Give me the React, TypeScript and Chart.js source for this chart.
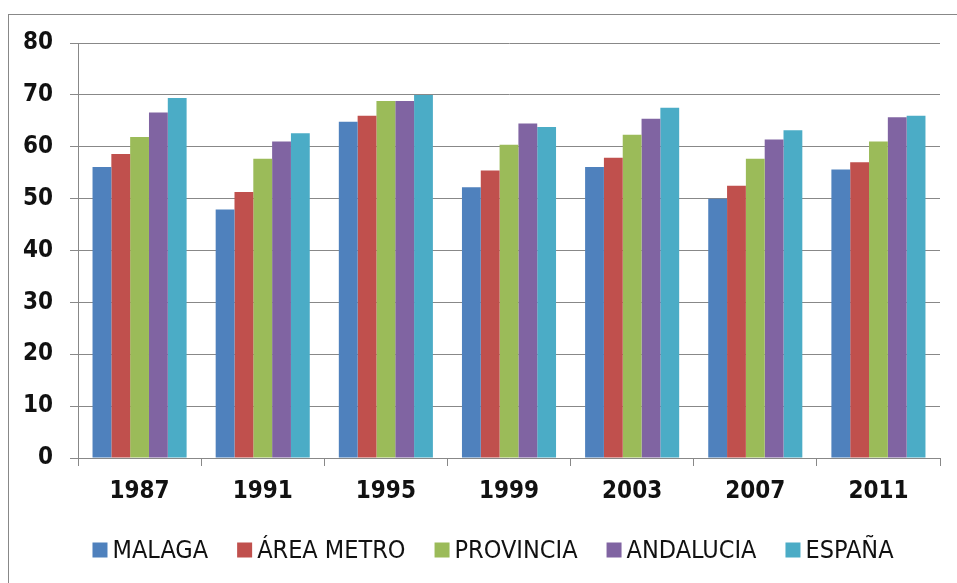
import React, { useEffect, useRef } from "react";
import { Chart, registerables } from "chart.js";

Chart.register(...registerables);

const categories = ["1987", "1991", "1995", "1999", "2003", "2007", "2011"];
const seriesNames = ["MALAGA", "ÁREA METRO", "PROVINCIA", "ANDALUCIA", "ESPAÑA"];
const malaga = [56.1, 47.9, 64.8, 52.2, 56.1, 50.0, 55.6];
const areaMetro = [58.6, 51.3, 66.0, 55.4, 57.9, 52.5, 57.0];
const provincia = [61.9, 57.7, 68.8, 60.4, 62.3, 57.7, 61.0];
const andalucia = [66.6, 61.0, 68.8, 64.5, 65.4, 61.4, 65.7];
const espana = [69.4, 62.6, 70.0, 63.8, 67.5, 63.2, 66.0];
const colors = ["#4F81BD", "#C0504D", "#9BBB59", "#8064A2", "#4BACC6"];

const FONT = "'Liberation Sans Narrow', 'DejaVu Sans Condensed', 'Liberation Sans', sans-serif";

const legendPlugin = {
  id: "customLegend",
  afterDraw(chart: any) {
    const ctx = chart.ctx;
    const ds = chart.data.datasets;
    const box = 15;
    const gapBoxText = 5;
    const gapItems = 29;
    const cx = 493;
    const cy = 550;
    ctx.save();
    ctx.font = `25px ${FONT}`;
    ctx.textBaseline = "middle";
    ctx.textAlign = "left";
    const widths = ds.map((d: any) => ctx.measureText(d.label).width);
    const total = widths.reduce((a: number, w: number) => a + box + gapBoxText + w, 0) + gapItems * (ds.length - 1);
    let x = cx - total / 2;
    ds.forEach((d: any, i: number) => {
      ctx.fillStyle = d.backgroundColor;
      ctx.fillRect(x, cy - box / 2, box, box);
      x += box + gapBoxText;
      ctx.fillStyle = "#111";
      ctx.fillText(d.label, x, cy + 1);
      x += widths[i] + gapItems;
    });
    ctx.restore();
  },
};

export default function App() {
  const ref = useRef<HTMLCanvasElement | null>(null);
  useEffect(() => {
    if (!ref.current) return;
    const values = [malaga, areaMetro, provincia, andalucia, espana];
    const chart = new Chart(ref.current, {
      type: "bar",
      data: {
        labels: categories,
        datasets: seriesNames.map((n, i) => ({
          label: n,
          data: values[i],
          backgroundColor: colors[i],
          borderWidth: 0,
          categoryPercentage: 0.764,
          barPercentage: 1,
        })),
      },
      plugins: [legendPlugin],
      options: {
        animation: false,
        responsive: true,
        maintainAspectRatio: false,
        layout: { padding: { left: 0, right: 17, top: 43, bottom: 75 } },
        plugins: {
          tooltip: { enabled: false },
          legend: { display: false },
        },
        scales: {
          x: {
            afterFit: (s: any) => { s.height = 50; },
            grid: { display: true, drawOnChartArea: false, color: "#888", tickLength: 8 },
            border: { color: "#888", width: 1 },
            ticks: { color: "#111", padding: 11, font: { family: FONT, size: 24, weight: "bold" } },
          },
          y: {
            min: 0,
            max: 80,
            afterFit: (s: any) => { s.width = 78; },
            grid: { color: "#888", tickLength: 8 },
            border: { color: "#888", width: 1 },
            ticks: { stepSize: 10, autoSkip: false, color: "#111", padding: 17, font: { family: FONT, size: 24, weight: "bold" } },
          },
        },
      },
    });
    return () => chart.destroy();
  }, []);
  return (
    <div style={{ position: "fixed", left: 0, top: 0, width: 957, height: 583, overflow: "hidden", background: "#fff" }}>
      <div style={{ position: "absolute", left: 8, top: 14, width: 1000, height: 700, borderLeft: "1px solid #888", borderTop: "1px solid #888" }} />
      <div style={{ position: "absolute", left: 0, top: 0, width: 957, height: 583 }}>
        <canvas ref={ref} />
      </div>
    </div>
  );
}
